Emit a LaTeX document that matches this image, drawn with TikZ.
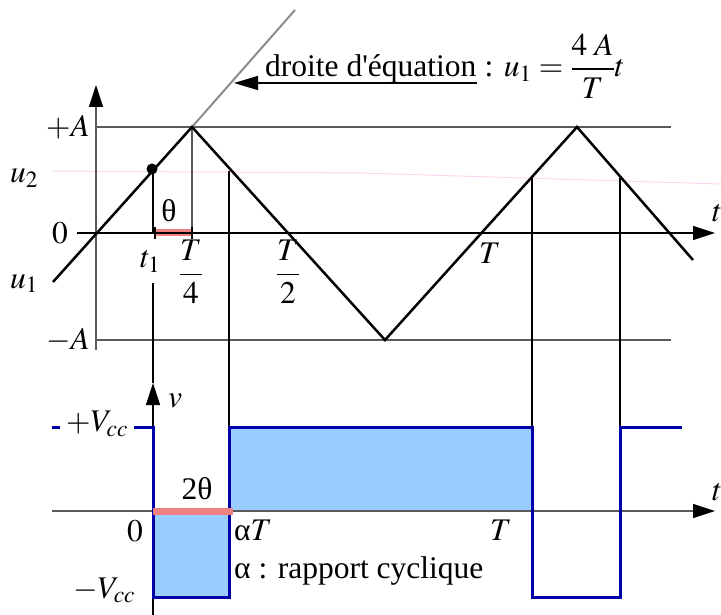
\documentclass[tikz,border=0pt]{standalone}
\usepackage{amsmath}
\usepackage{mathptmx}
\usepackage{fontspec}
\setmainfont{Liberation Serif}
\usepackage{tikz}
\usetikzlibrary{arrows.meta, positioning}
\definecolor{axisgray}{HTML}{5A5A5A}
\definecolor{linegray}{HTML}{8C8C8C}
\definecolor{wave}{HTML}{0000A8}
\definecolor{wavefill}{HTML}{99CCFF}
\definecolor{thetabar}{HTML}{EE8080}
\definecolor{faintpink}{HTML}{FFD6F2}

\begin{document}
\begin{tikzpicture}[x=1pt, y=-1pt, >={Triangle[length=22pt,width=14pt,black]},
    font=\fontsize{31.5}{38}\selectfont,
    axis/.style={->, line width=1.3pt},
    guide/.style={line width=1.1pt},
    lbl/.style={inner sep=0pt}]
    \useasboundingbox (0,0) rectangle (721,615);

    % Top plot
    \draw[faintpink, line width=1pt] (53,171) -- (360,173) -- (721,184);
    \draw[guide, axisgray] (96,127) -- (671,127);
    \draw[guide, axisgray] (96,340) -- (671,340);
    \draw[axis, axisgray] (96,350) -- (96,85);
    \draw[guide, axisgray] (192,127) -- (192,233);
    \draw[guide] (153,171) -- (153,233);
    \draw[guide] (153,283) -- (153,383);
    \draw[guide] (229,171) -- (229,427);
    \draw[guide] (532,177) -- (532,427);
    \draw[guide] (620,178) -- (620,427);
    \draw[thetabar, line width=7pt] (155,233) -- (192,233);
    \draw[axis] (77,233) -- (715,233);
    \draw[line width=2pt] (155,227) -- (155,239);
    \draw[line width=2pt] (192,227) -- (192,239);
    \draw[linegray, line width=2pt] (192,127) -- (295,10);
    \draw[line width=2.5pt] (53,282) -- (192,127) -- (385,340) -- (577,127) -- (693,260);
    \node[circle, fill, inner sep=0pt, minimum size=11pt] (dot) at (152,169) {};

    % Equation
    \node[lbl, anchor=base west] (eqtext) at (265,77) {droite d\textquotesingle équation};
    \node[lbl, anchor=base west] (eqmath) at (eqtext.base east) {\ : $u_1=\dfrac{4\;A}{T}t$};
    \coordinate (eqtip) at (234,83);
    \draw[->, line width=1.3pt, >={Triangle[length=24pt,width=14pt]}] (eqtext.south east |- eqtip) -- (eqtip);

    % Top labels
    \node[lbl, anchor=base east] (plusA) at (90,137) {$+A$};
    \node[lbl, anchor=base east] (minusA) at (90,349) {$-A$};
    \node[lbl, anchor=base west] (utwo) at (10,183) {$u_2$};
    \node[lbl, anchor=base west] (uone) at (10,288) {$u_1$};
    \node[lbl] (zerotop) at (60,233) {$0$};
    \node[lbl, anchor=base west] (tone) at (140,268) {$t_1$};
    \node[lbl] (theta) at (169,211) {θ};
    \node[lbl] (Tquarter) at (191,272) {$\dfrac{T}{4}$};
    \node[lbl] (Thalf) at (288,272) {$\dfrac{T}{2}$};
    \node[lbl, anchor=base] (Ttop) at (490,263) {$T$};
    \node[lbl, anchor=base west] (ttop) at (712,222) {$t$};

    % Bottom plot
    \fill[wavefill] (153,511) rectangle (229,597);
    \fill[wavefill] (229,427) rectangle (532,511);
    \draw[axis, axisgray] (52,511) -- (715,511);
    \draw[axis] (153,615) -- (153,383);
    \draw[wave, line width=3pt] (52,427) -- (153,427) -- (153,597) -- (229,597) -- (229,427)
        -- (532,427) -- (532,597) -- (620,597) -- (620,427) -- (682,427);
    \draw[thetabar, line width=7pt] (153,511) -- (233,511);

    % Bottom labels
    \node[fill=white, inner xsep=6pt, inner ysep=2pt] (plusV) at (97,424) {$+V_{cc}$};
    \node[lbl, anchor=base west] (minusV) at (73,598) {$-V_{cc}$};
    \node[lbl, anchor=base west] (vlbl) at (168,407) {$v$};
    \node[lbl] (zerobot) at (135,531) {$0$};
    \node[lbl] (twotheta) at (197,489) {2θ};
    \node[lbl, anchor=base west] (alphaT) at (234,540) {α$T$};
    \node[lbl, anchor=base west] (ratio) at (234,578) {α : rapport cyclique};
    \node[lbl, anchor=base] (Tbot) at (501,540) {$T$};
    \node[lbl, anchor=base west] (tbot) at (712,500) {$t$};
\end{tikzpicture}
\end{document}
